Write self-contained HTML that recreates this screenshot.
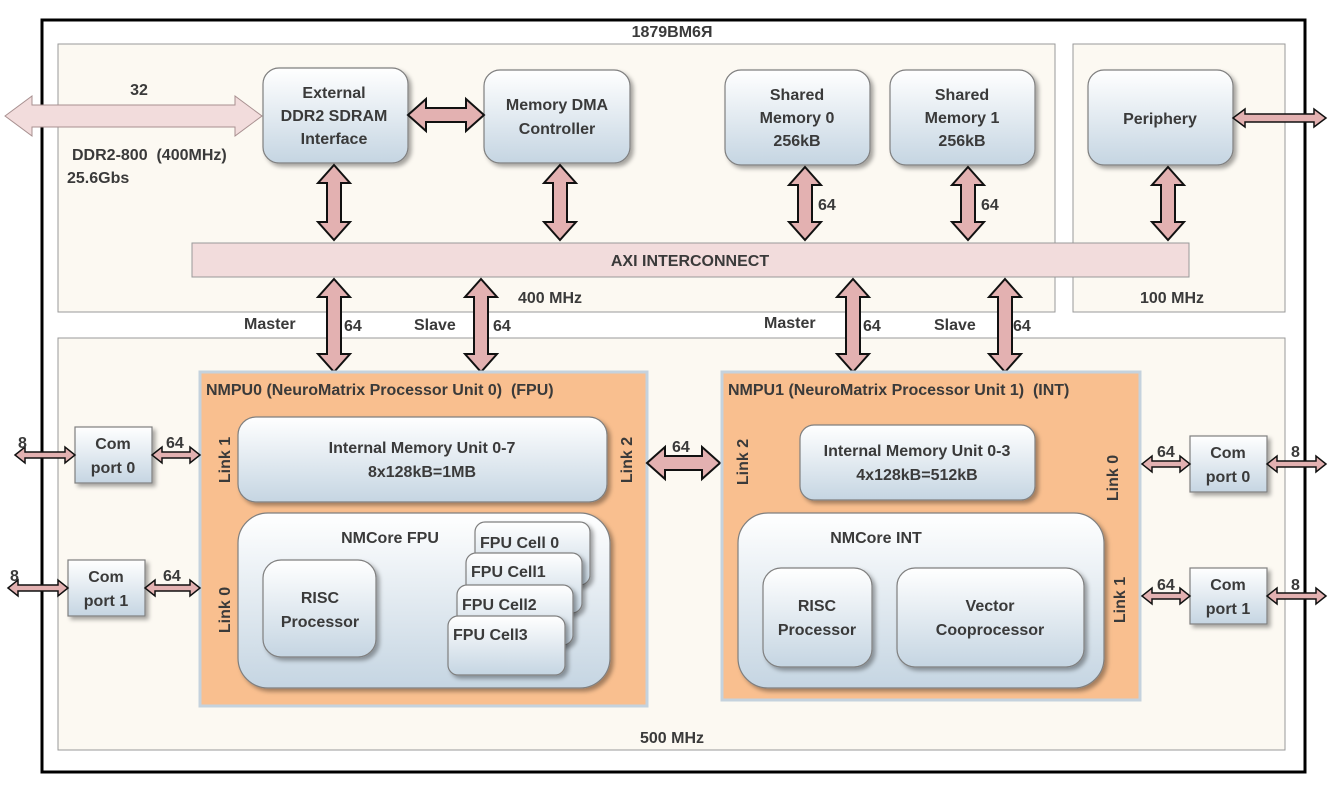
<!DOCTYPE html>
<html><head><meta charset="utf-8"><style>
html,body{margin:0;padding:0;background:#fff}
svg{display:block}
text{font-family:"Liberation Sans",sans-serif;font-weight:bold;fill:#3a3a3a;font-size:16px;white-space:pre}
.b{fill:url(#g);stroke:#7f7f7f;stroke-width:1.2;filter:url(#sh)}
.ar{fill:#e3b1b1;stroke:#111;stroke-width:2}
.sa{fill:#e3b1b1;stroke:#111;stroke-width:1.5}
</style></head><body>
<svg width="1336" height="786" viewBox="0 0 1336 786">
<defs>
<linearGradient id="g" x1="0" y1="0" x2="0" y2="1"><stop offset="0" stop-color="#ffffff"/><stop offset="1" stop-color="#c5d5e2"/></linearGradient>
<filter id="sh" x="-10%" y="-10%" width="130%" height="130%"><feDropShadow dx="3" dy="3" stdDeviation="2" flood-color="#000" flood-opacity="0.35"/></filter>
</defs>
<rect x="0" y="0" width="1336" height="786" fill="#fff"/>
<rect x="42" y="20" width="1263" height="752" fill="#fff" stroke="#000" stroke-width="3"/>
<text x="672" y="37" text-anchor="middle">1879ВМ6Я</text>
<rect x="58" y="44" width="997" height="268" fill="#fcf9f2" stroke="#999" stroke-width="1"/>
<rect x="1073" y="44" width="212" height="268" fill="#fcf9f2" stroke="#999" stroke-width="1"/>
<rect x="58" y="338" width="1227" height="412" fill="#fcf9f2" stroke="#999" stroke-width="1"/>
<rect x="192" y="243" width="997" height="34" fill="#f2dcdc" stroke="#999" stroke-width="1"/>
<text x="690" y="266" text-anchor="middle">AXI INTERCONNECT</text>

<polygon points="5,116 32,96 32,105 235,105 235,96 262,116 235,136 235,127 32,127 32,136" fill="#f2dcdc" stroke="#a89090" stroke-width="1"/>
<text x="139" y="95" text-anchor="middle">32</text>
<text x="72" y="160">DDR2-800  (400MHz)</text>
<text x="67" y="183">25.6Gbs</text>

<rect class="b" x="263" y="68" width="145" height="95" rx="16"/>
<text x="334" y="98" text-anchor="middle">External</text>
<text x="334" y="121" text-anchor="middle">DDR2 SDRAM</text>
<text x="334" y="144" text-anchor="middle">Interface</text>
<rect class="b" x="484" y="70" width="146" height="93" rx="16"/>
<text x="557" y="110" text-anchor="middle">Memory DMA</text>
<text x="557" y="134" text-anchor="middle">Controller</text>
<rect class="b" x="725" y="70" width="145" height="95" rx="16"/>
<text x="797" y="100" text-anchor="middle">Shared</text>
<text x="797" y="123" text-anchor="middle">Memory 0</text>
<text x="797" y="146" text-anchor="middle">256kB</text>
<rect class="b" x="890" y="70" width="145" height="95" rx="16"/>
<text x="962" y="100" text-anchor="middle">Shared</text>
<text x="962" y="123" text-anchor="middle">Memory 1</text>
<text x="962" y="146" text-anchor="middle">256kB</text>
<rect class="b" x="1088" y="70" width="145" height="95" rx="16"/>
<text x="1160" y="124" text-anchor="middle">Periphery</text>

<polygon class="ar" points="408,115 426,99 426,108 466,108 466,99 484,115 466,131 466,122 426,122 426,131"/>
<polygon class="ar" points="334,165 350,183 341,183 341,222 350,222 334,240 318,222 327,222 327,183 318,183"/>
<polygon class="ar" points="560,165 576,183 567,183 567,222 576,222 560,240 544,222 553,222 553,183 544,183"/>
<polygon class="ar" points="805,167 821,185 812,185 812,222 821,222 805,240 789,222 798,222 798,185 789,185"/>
<polygon class="ar" points="968,167 984,185 975,185 975,222 984,222 968,240 952,222 961,222 961,185 952,185"/>
<polygon class="ar" points="1168,167 1184,185 1175,185 1175,222 1184,222 1168,240 1152,222 1161,222 1161,185 1152,185"/>
<text x="818" y="210" font-size="15">64</text><text x="981" y="210" font-size="15">64</text>
<polygon class="sa" points="1233,118 1245,109 1245,114 1314,114 1314,109 1326,118 1314,127 1314,122 1245,122 1245,127"/>

<polygon class="ar" points="334,279 350,297 341,297 341,354 350,354 334,372 318,354 327,354 327,297 318,297"/>
<polygon class="ar" points="481,279 497,297 488,297 488,354 497,354 481,372 465,354 474,354 474,297 465,297"/>
<polygon class="ar" points="853,279 869,297 860,297 860,354 869,354 853,372 837,354 846,354 846,297 837,297"/>
<polygon class="ar" points="1005,279 1021,297 1012,297 1012,354 1021,354 1005,372 989,354 998,354 998,297 989,297"/>
<text x="244" y="329" font-size="17">Master</text><text x="344" y="331" font-size="15">64</text>
<text x="414" y="330" font-size="17">Slave</text><text x="493" y="331" font-size="15">64</text>
<text x="518" y="303">400 MHz</text>
<text x="1140" y="303">100 MHz</text>
<text x="764" y="328" font-size="17">Master</text><text x="863" y="331" font-size="15">64</text>
<text x="934" y="330" font-size="17">Slave</text><text x="1013" y="331" font-size="15">64</text>
<text x="672" y="743" text-anchor="middle">500 MHz</text>

<!-- NMPU0 -->
<rect x="200" y="372" width="447" height="334" fill="#f9bf8f" stroke="#c5d2dd" stroke-width="3"/>
<text x="206" y="395">NMPU0 (NeuroMatrix Processor Unit 0)  (FPU)</text>
<rect class="b" x="238" y="417" width="369" height="85" rx="18"/>
<text x="422" y="453" text-anchor="middle">Internal Memory Unit 0-7</text>
<text x="422" y="477" text-anchor="middle">8x128kB=1MB</text>
<rect class="b" x="238" y="513" width="372" height="175" rx="30"/>
<text x="390" y="543" text-anchor="middle">NMCore FPU</text>
<rect class="b" x="263" y="560" width="113" height="97" rx="18"/>
<text x="320" y="603" text-anchor="middle">RISC</text>
<text x="320" y="627" text-anchor="middle">Processor</text>
<rect class="b" x="475" y="522" width="115" height="63" rx="10"/>
<text x="480" y="548">FPU Cell 0</text>
<rect class="b" x="466" y="553" width="116" height="60" rx="10"/>
<text x="471" y="577">FPU Cell1</text>
<rect class="b" x="457" y="585" width="116" height="60" rx="10"/>
<text x="462" y="610">FPU Cell2</text>
<rect class="b" x="448" y="616" width="117" height="59" rx="10"/>
<text x="453" y="640">FPU Cell3</text>
<text transform="translate(230,460) rotate(-90)" text-anchor="middle" font-size="17">Link 1</text>
<text transform="translate(230,610) rotate(-90)" text-anchor="middle" font-size="17">Link 0</text>
<text transform="translate(632,460) rotate(-90)" text-anchor="middle" font-size="17">Link 2</text>

<polygon class="ar" points="647,463 665,447 665,456 702,456 702,447 720,463 702,479 702,470 665,470 665,479"/>
<text x="672" y="452" font-size="15">64</text>

<!-- NMPU1 -->
<rect x="722" y="372" width="418" height="328" fill="#f9bf8f" stroke="#c5d2dd" stroke-width="3"/>
<text x="728" y="395">NMPU1 (NeuroMatrix Processor Unit 1)  (INT)</text>
<rect class="b" x="800" y="425" width="235" height="75" rx="14"/>
<text x="917" y="456" text-anchor="middle">Internal Memory Unit 0-3</text>
<text x="917" y="480" text-anchor="middle">4x128kB=512kB</text>
<rect class="b" x="738" y="513" width="366" height="175" rx="30"/>
<text x="876" y="543" text-anchor="middle">NMCore INT</text>
<rect class="b" x="763" y="568" width="109" height="99" rx="18"/>
<text x="817" y="611" text-anchor="middle">RISC</text>
<text x="817" y="635" text-anchor="middle">Processor</text>
<rect class="b" x="897" y="568" width="187" height="99" rx="18"/>
<text x="990" y="611" text-anchor="middle">Vector</text>
<text x="990" y="635" text-anchor="middle">Cooprocessor</text>
<text transform="translate(748,462) rotate(-90)" text-anchor="middle" font-size="17">Link 2</text>
<text transform="translate(1118,478) rotate(-90)" text-anchor="middle" font-size="17">Link 0</text>
<text transform="translate(1125,600) rotate(-90)" text-anchor="middle" font-size="17">Link 1</text>

<!-- Com ports -->
<rect class="b" x="75" y="427" width="77" height="56"/>
<text x="113" y="449" text-anchor="middle">Com</text><text x="113" y="473" text-anchor="middle">port 0</text>
<rect class="b" x="68" y="560" width="77" height="56"/>
<text x="106" y="582" text-anchor="middle">Com</text><text x="106" y="606" text-anchor="middle">port 1</text>
<rect class="b" x="1190" y="436" width="77" height="56"/>
<text x="1228" y="458" text-anchor="middle">Com</text><text x="1228" y="482" text-anchor="middle">port 0</text>
<rect class="b" x="1190" y="568" width="77" height="56"/>
<text x="1228" y="590" text-anchor="middle">Com</text><text x="1228" y="614" text-anchor="middle">port 1</text>

<polygon class="sa" points="15,455 25,447 25,452 65,452 65,447 75,455 65,463 65,458 25,458 25,463"/>
<polygon class="sa" points="152,455 162,447 162,452 190,452 190,447 200,455 190,463 190,458 162,458 162,463"/>
<polygon class="sa" points="8,588 18,580 18,585 58,585 58,580 68,588 58,596 58,591 18,591 18,596"/>
<polygon class="sa" points="145,588 155,580 155,585 190,585 190,580 200,588 190,596 190,591 155,591 155,596"/>
<polygon class="sa" points="1142,464 1152,456 1152,461 1180,461 1180,456 1190,464 1180,472 1180,467 1152,467 1152,472"/>
<polygon class="sa" points="1267,464 1277,456 1277,461 1316,461 1316,456 1326,464 1316,472 1316,467 1277,467 1277,472"/>
<polygon class="sa" points="1142,596 1152,588 1152,593 1180,593 1180,588 1190,596 1180,604 1180,599 1152,599 1152,604"/>
<polygon class="sa" points="1267,596 1277,588 1277,593 1316,593 1316,588 1326,596 1316,604 1316,599 1277,599 1277,604"/>
<text x="18" y="448" font-size="13">8</text><text x="166" y="448" font-size="13">64</text>
<text x="10" y="581" font-size="13">8</text><text x="163" y="581" font-size="13">64</text>
<text x="1157" y="457" font-size="13">64</text><text x="1291" y="457" font-size="13">8</text>
<text x="1157" y="590" font-size="13">64</text><text x="1291" y="590" font-size="13">8</text>
</svg>
</body></html>
